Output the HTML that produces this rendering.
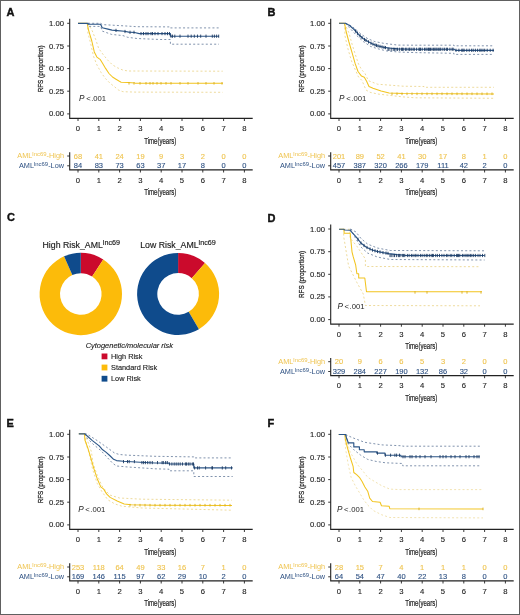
<!DOCTYPE html><html><head><meta charset="utf-8"><style>html,body{margin:0;padding:0;background:#fff}svg{display:block;filter:blur(0.3px)}</style></head><body>
<svg width="520" height="615" viewBox="0 0 520 615" font-family='"Liberation Sans", sans-serif'>
<rect x="0" y="0" width="520" height="615" fill="#fff"/>
<text x="6.6" y="15.8" font-size="11" font-weight="bold" fill="#111" stroke="#111" stroke-width="0.4">A</text>
<path d="M69.7 18.8V118.4H252.7" fill="none" stroke="#222" stroke-width="1.1"/>
<path d="M67.2 113.9H69.7" stroke="#222" stroke-width="0.9"/>
<text x="64.0" y="116.4" font-size="7.7" fill="#1e1e1e" stroke="#1e1e1e" stroke-width="0.12" text-anchor="end">0.00</text>
<path d="M67.2 91.2H69.7" stroke="#222" stroke-width="0.9"/>
<text x="64.0" y="93.8" font-size="7.7" fill="#1e1e1e" stroke="#1e1e1e" stroke-width="0.12" text-anchor="end">0.25</text>
<path d="M67.2 68.6H69.7" stroke="#222" stroke-width="0.9"/>
<text x="64.0" y="71.1" font-size="7.7" fill="#1e1e1e" stroke="#1e1e1e" stroke-width="0.12" text-anchor="end">0.50</text>
<path d="M67.2 46.0H69.7" stroke="#222" stroke-width="0.9"/>
<text x="64.0" y="48.5" font-size="7.7" fill="#1e1e1e" stroke="#1e1e1e" stroke-width="0.12" text-anchor="end">0.75</text>
<path d="M67.2 23.3H69.7" stroke="#222" stroke-width="0.9"/>
<text x="64.0" y="25.8" font-size="7.7" fill="#1e1e1e" stroke="#1e1e1e" stroke-width="0.12" text-anchor="end">1.00</text>
<path d="M78.0 118.4V121.0" stroke="#222" stroke-width="0.9"/>
<text x="78.0" y="131.0" font-size="7.7" fill="#1e1e1e" stroke="#1e1e1e" stroke-width="0.12" text-anchor="middle">0</text>
<path d="M98.8 118.4V121.0" stroke="#222" stroke-width="0.9"/>
<text x="98.8" y="131.0" font-size="7.7" fill="#1e1e1e" stroke="#1e1e1e" stroke-width="0.12" text-anchor="middle">1</text>
<path d="M119.6 118.4V121.0" stroke="#222" stroke-width="0.9"/>
<text x="119.6" y="131.0" font-size="7.7" fill="#1e1e1e" stroke="#1e1e1e" stroke-width="0.12" text-anchor="middle">2</text>
<path d="M140.4 118.4V121.0" stroke="#222" stroke-width="0.9"/>
<text x="140.4" y="131.0" font-size="7.7" fill="#1e1e1e" stroke="#1e1e1e" stroke-width="0.12" text-anchor="middle">3</text>
<path d="M161.2 118.4V121.0" stroke="#222" stroke-width="0.9"/>
<text x="161.2" y="131.0" font-size="7.7" fill="#1e1e1e" stroke="#1e1e1e" stroke-width="0.12" text-anchor="middle">4</text>
<path d="M182.0 118.4V121.0" stroke="#222" stroke-width="0.9"/>
<text x="182.0" y="131.0" font-size="7.7" fill="#1e1e1e" stroke="#1e1e1e" stroke-width="0.12" text-anchor="middle">5</text>
<path d="M202.8 118.4V121.0" stroke="#222" stroke-width="0.9"/>
<text x="202.8" y="131.0" font-size="7.7" fill="#1e1e1e" stroke="#1e1e1e" stroke-width="0.12" text-anchor="middle">6</text>
<path d="M223.6 118.4V121.0" stroke="#222" stroke-width="0.9"/>
<text x="223.6" y="131.0" font-size="7.7" fill="#1e1e1e" stroke="#1e1e1e" stroke-width="0.12" text-anchor="middle">7</text>
<path d="M244.4 118.4V121.0" stroke="#222" stroke-width="0.9"/>
<text x="244.4" y="131.0" font-size="7.7" fill="#1e1e1e" stroke="#1e1e1e" stroke-width="0.12" text-anchor="middle">8</text>
<text x="160.2" y="143.7" font-size="8.4" fill="#1e1e1e" text-anchor="middle" textLength="32" lengthAdjust="spacingAndGlyphs" stroke="#1e1e1e" stroke-width="0.2">Time(years)</text>
<text transform="translate(42.7,68.8) rotate(-90)" font-size="7.8" fill="#1e1e1e" text-anchor="middle" textLength="47" lengthAdjust="spacingAndGlyphs" stroke="#1e1e1e" stroke-width="0.25">RFS (proportion)</text>
<polyline points="88.0,23.3 100.8,23.3 102.3,24.6 123.0,25.8 137.0,26.7 170.4,26.9 170.4,27.9 219.0,27.9" fill="none" stroke="#6a7f9e" stroke-width="0.85" stroke-dasharray="2 2.2"/>
<polyline points="88.0,23.3 88.0,26.4 100.8,26.4 102.0,31.0 111.5,34.4 123.0,35.6 127.7,37.3 137.0,38.5 160.0,39.5 170.4,39.5 170.4,44.2 219.0,44.2" fill="none" stroke="#6a7f9e" stroke-width="0.85" stroke-dasharray="2 2.2"/>
<polyline points="87.4,23.3 91.8,29.8 95.7,39.5 98.7,48.5 103.8,55.4 108.2,60.6 112.5,64.9 117.7,67.9 122.9,70.1 128.0,71.0 222.7,71.2" fill="none" stroke="#e8cf7c" stroke-width="0.75" stroke-dasharray="2 2.2"/>
<polyline points="87.4,23.3 87.9,33.0 90.5,42.8 93.5,56.2 96.9,64.9 101.2,72.7 105.6,78.7 109.9,83.1 114.2,86.5 118.5,90.0 122.9,91.7 135.0,92.1 222.7,92.3" fill="none" stroke="#e8cf7c" stroke-width="0.75" stroke-dasharray="2 2.2"/>
<polyline points="78.0,23.3 87.2,23.3 88.5,29.8 89.8,34.3 91.8,41.0 94.3,51.9 96.9,57.1 100.4,59.7 103.0,64.0 105.6,68.4 109.0,73.5 112.5,77.0 116.0,79.2 119.4,81.3 121.1,82.2 128.0,82.6 135.0,83.1 223.0,83.3" fill="none" stroke="#f2c41e" stroke-width="1.05" stroke-linejoin="round"/>
<polyline points="78.0,23.3 88.0,23.3 88.0,24.2 100.6,24.2 102.2,27.8 108.0,29.1 112.0,30.1 117.3,30.6 124.2,31.3 128.8,32.1 134.6,32.5 139.2,33.6 170.4,33.6 170.4,36.2 219.0,36.2" fill="none" stroke="#2c5687" stroke-width="1.15" stroke-linejoin="round"/>
<path d="M116.0 28.8v3.2M125.0 29.9v3.2M130.0 30.7v3.2M134.0 30.7v3.2M141.0 32.0v3.2M143.5 32.0v3.2M146.0 32.0v3.2M148.0 32.0v3.2M151.0 32.0v3.2M152.5 32.0v3.2M155.0 32.0v3.2M158.0 32.0v3.2M162.0 32.0v3.2M165.0 32.0v3.2M167.5 32.0v3.2M169.5 32.0v3.2M171.0 34.6v3.2M172.5 34.6v3.2M174.8 34.6v3.2M180.0 34.6v3.2M188.0 34.6v3.2M191.2 34.6v3.2M194.3 34.6v3.2M197.5 34.6v3.2M200.7 34.6v3.2M206.0 34.6v3.2M212.3 34.6v3.2M214.4 34.6v3.2M216.6 34.6v3.2M218.7 34.6v3.2" stroke="#1d3b63" stroke-width="0.9"/>
<path d="M129.0 82.0v2.6M134.0 82.0v2.6M140.0 82.0v2.6M146.0 82.0v2.6M150.0 82.0v2.6M153.0 82.0v2.6M157.0 82.0v2.6M161.0 82.0v2.6M166.0 82.0v2.6M171.0 82.0v2.6M180.0 82.0v2.6M188.0 82.0v2.6M198.0 82.0v2.6M206.0 82.0v2.6M214.0 82.0v2.6M222.0 82.0v2.6" stroke="#d9ae1e" stroke-width="0.9"/>
<text x="79.0" y="100.8" font-size="7.7" fill="#1e1e1e"><tspan font-style="italic" font-size="8.2">P</tspan><tspan dx="1.7">&lt;</tspan><tspan dx="0.5">.001</tspan></text>
<path d="M69.7 152.2V169.9H252.7" fill="none" stroke="#222" stroke-width="1.1"/>
<path d="M67.2 156.0H69.7" stroke="#222" stroke-width="0.9"/>
<path d="M67.2 165.8H69.7" stroke="#222" stroke-width="0.9"/>
<path d="M78.0 169.9V172.5" stroke="#222" stroke-width="0.9"/>
<text x="78.0" y="182.7" font-size="7.7" fill="#1e1e1e" stroke="#1e1e1e" stroke-width="0.12" text-anchor="middle">0</text>
<path d="M98.8 169.9V172.5" stroke="#222" stroke-width="0.9"/>
<text x="98.8" y="182.7" font-size="7.7" fill="#1e1e1e" stroke="#1e1e1e" stroke-width="0.12" text-anchor="middle">1</text>
<path d="M119.6 169.9V172.5" stroke="#222" stroke-width="0.9"/>
<text x="119.6" y="182.7" font-size="7.7" fill="#1e1e1e" stroke="#1e1e1e" stroke-width="0.12" text-anchor="middle">2</text>
<path d="M140.4 169.9V172.5" stroke="#222" stroke-width="0.9"/>
<text x="140.4" y="182.7" font-size="7.7" fill="#1e1e1e" stroke="#1e1e1e" stroke-width="0.12" text-anchor="middle">3</text>
<path d="M161.2 169.9V172.5" stroke="#222" stroke-width="0.9"/>
<text x="161.2" y="182.7" font-size="7.7" fill="#1e1e1e" stroke="#1e1e1e" stroke-width="0.12" text-anchor="middle">4</text>
<path d="M182.0 169.9V172.5" stroke="#222" stroke-width="0.9"/>
<text x="182.0" y="182.7" font-size="7.7" fill="#1e1e1e" stroke="#1e1e1e" stroke-width="0.12" text-anchor="middle">5</text>
<path d="M202.8 169.9V172.5" stroke="#222" stroke-width="0.9"/>
<text x="202.8" y="182.7" font-size="7.7" fill="#1e1e1e" stroke="#1e1e1e" stroke-width="0.12" text-anchor="middle">6</text>
<path d="M223.6 169.9V172.5" stroke="#222" stroke-width="0.9"/>
<text x="223.6" y="182.7" font-size="7.7" fill="#1e1e1e" stroke="#1e1e1e" stroke-width="0.12" text-anchor="middle">7</text>
<path d="M244.4 169.9V172.5" stroke="#222" stroke-width="0.9"/>
<text x="244.4" y="182.7" font-size="7.7" fill="#1e1e1e" stroke="#1e1e1e" stroke-width="0.12" text-anchor="middle">8</text>
<text x="160.2" y="195.1" font-size="8.4" fill="#1e1e1e" text-anchor="middle" textLength="32" lengthAdjust="spacingAndGlyphs" stroke="#1e1e1e" stroke-width="0.2">Time(years)</text>
<text x="64.0" y="158.3" font-size="7.3" fill="#efc450" text-anchor="end">AML<tspan font-size="5.2" dy="-2" textLength="14.2" lengthAdjust="spacingAndGlyphs">lnc69</tspan><tspan dy="2">-High</tspan></text>
<text x="64.0" y="168.1" font-size="7.3" fill="#2f5283" text-anchor="end">AML<tspan font-size="5.2" dy="-2" textLength="14.2" lengthAdjust="spacingAndGlyphs">lnc69</tspan><tspan dy="2">-Low</tspan></text>
<text x="78.0" y="158.6" font-size="7.5" fill="#efc450" stroke="#efc450" stroke-width="0.12" text-anchor="middle">68</text>
<text x="78.0" y="168.4" font-size="7.5" fill="#2f5283" stroke="#2f5283" stroke-width="0.12" text-anchor="middle">84</text>
<text x="98.8" y="158.6" font-size="7.5" fill="#efc450" stroke="#efc450" stroke-width="0.12" text-anchor="middle">41</text>
<text x="98.8" y="168.4" font-size="7.5" fill="#2f5283" stroke="#2f5283" stroke-width="0.12" text-anchor="middle">83</text>
<text x="119.6" y="158.6" font-size="7.5" fill="#efc450" stroke="#efc450" stroke-width="0.12" text-anchor="middle">24</text>
<text x="119.6" y="168.4" font-size="7.5" fill="#2f5283" stroke="#2f5283" stroke-width="0.12" text-anchor="middle">73</text>
<text x="140.4" y="158.6" font-size="7.5" fill="#efc450" stroke="#efc450" stroke-width="0.12" text-anchor="middle">19</text>
<text x="140.4" y="168.4" font-size="7.5" fill="#2f5283" stroke="#2f5283" stroke-width="0.12" text-anchor="middle">63</text>
<text x="161.2" y="158.6" font-size="7.5" fill="#efc450" stroke="#efc450" stroke-width="0.12" text-anchor="middle">9</text>
<text x="161.2" y="168.4" font-size="7.5" fill="#2f5283" stroke="#2f5283" stroke-width="0.12" text-anchor="middle">37</text>
<text x="182.0" y="158.6" font-size="7.5" fill="#efc450" stroke="#efc450" stroke-width="0.12" text-anchor="middle">3</text>
<text x="182.0" y="168.4" font-size="7.5" fill="#2f5283" stroke="#2f5283" stroke-width="0.12" text-anchor="middle">17</text>
<text x="202.8" y="158.6" font-size="7.5" fill="#efc450" stroke="#efc450" stroke-width="0.12" text-anchor="middle">2</text>
<text x="202.8" y="168.4" font-size="7.5" fill="#2f5283" stroke="#2f5283" stroke-width="0.12" text-anchor="middle">8</text>
<text x="223.6" y="158.6" font-size="7.5" fill="#efc450" stroke="#efc450" stroke-width="0.12" text-anchor="middle">0</text>
<text x="223.6" y="168.4" font-size="7.5" fill="#2f5283" stroke="#2f5283" stroke-width="0.12" text-anchor="middle">0</text>
<text x="244.4" y="158.6" font-size="7.5" fill="#efc450" stroke="#efc450" stroke-width="0.12" text-anchor="middle">0</text>
<text x="244.4" y="168.4" font-size="7.5" fill="#2f5283" stroke="#2f5283" stroke-width="0.12" text-anchor="middle">0</text>
<text x="267.6" y="15.8" font-size="11" font-weight="bold" fill="#111" stroke="#111" stroke-width="0.4">B</text>
<path d="M330.7 18.8V118.4H513.7" fill="none" stroke="#222" stroke-width="1.1"/>
<path d="M328.2 113.9H330.7" stroke="#222" stroke-width="0.9"/>
<text x="325.0" y="116.4" font-size="7.7" fill="#1e1e1e" stroke="#1e1e1e" stroke-width="0.12" text-anchor="end">0.00</text>
<path d="M328.2 91.2H330.7" stroke="#222" stroke-width="0.9"/>
<text x="325.0" y="93.8" font-size="7.7" fill="#1e1e1e" stroke="#1e1e1e" stroke-width="0.12" text-anchor="end">0.25</text>
<path d="M328.2 68.6H330.7" stroke="#222" stroke-width="0.9"/>
<text x="325.0" y="71.1" font-size="7.7" fill="#1e1e1e" stroke="#1e1e1e" stroke-width="0.12" text-anchor="end">0.50</text>
<path d="M328.2 46.0H330.7" stroke="#222" stroke-width="0.9"/>
<text x="325.0" y="48.5" font-size="7.7" fill="#1e1e1e" stroke="#1e1e1e" stroke-width="0.12" text-anchor="end">0.75</text>
<path d="M328.2 23.3H330.7" stroke="#222" stroke-width="0.9"/>
<text x="325.0" y="25.8" font-size="7.7" fill="#1e1e1e" stroke="#1e1e1e" stroke-width="0.12" text-anchor="end">1.00</text>
<path d="M339.0 118.4V121.0" stroke="#222" stroke-width="0.9"/>
<text x="339.0" y="131.0" font-size="7.7" fill="#1e1e1e" stroke="#1e1e1e" stroke-width="0.12" text-anchor="middle">0</text>
<path d="M359.8 118.4V121.0" stroke="#222" stroke-width="0.9"/>
<text x="359.8" y="131.0" font-size="7.7" fill="#1e1e1e" stroke="#1e1e1e" stroke-width="0.12" text-anchor="middle">1</text>
<path d="M380.6 118.4V121.0" stroke="#222" stroke-width="0.9"/>
<text x="380.6" y="131.0" font-size="7.7" fill="#1e1e1e" stroke="#1e1e1e" stroke-width="0.12" text-anchor="middle">2</text>
<path d="M401.4 118.4V121.0" stroke="#222" stroke-width="0.9"/>
<text x="401.4" y="131.0" font-size="7.7" fill="#1e1e1e" stroke="#1e1e1e" stroke-width="0.12" text-anchor="middle">3</text>
<path d="M422.2 118.4V121.0" stroke="#222" stroke-width="0.9"/>
<text x="422.2" y="131.0" font-size="7.7" fill="#1e1e1e" stroke="#1e1e1e" stroke-width="0.12" text-anchor="middle">4</text>
<path d="M443.0 118.4V121.0" stroke="#222" stroke-width="0.9"/>
<text x="443.0" y="131.0" font-size="7.7" fill="#1e1e1e" stroke="#1e1e1e" stroke-width="0.12" text-anchor="middle">5</text>
<path d="M463.8 118.4V121.0" stroke="#222" stroke-width="0.9"/>
<text x="463.8" y="131.0" font-size="7.7" fill="#1e1e1e" stroke="#1e1e1e" stroke-width="0.12" text-anchor="middle">6</text>
<path d="M484.6 118.4V121.0" stroke="#222" stroke-width="0.9"/>
<text x="484.6" y="131.0" font-size="7.7" fill="#1e1e1e" stroke="#1e1e1e" stroke-width="0.12" text-anchor="middle">7</text>
<path d="M505.4 118.4V121.0" stroke="#222" stroke-width="0.9"/>
<text x="505.4" y="131.0" font-size="7.7" fill="#1e1e1e" stroke="#1e1e1e" stroke-width="0.12" text-anchor="middle">8</text>
<text x="421.2" y="143.7" font-size="8.4" fill="#1e1e1e" text-anchor="middle" textLength="32" lengthAdjust="spacingAndGlyphs" stroke="#1e1e1e" stroke-width="0.2">Time(years)</text>
<text transform="translate(303.7,68.8) rotate(-90)" font-size="7.8" fill="#1e1e1e" text-anchor="middle" textLength="47" lengthAdjust="spacingAndGlyphs" stroke="#1e1e1e" stroke-width="0.25">RFS (proportion)</text>
<polyline points="345.5,23.2 351.8,26.1 361.0,34.1 368.0,38.8 374.9,41.6 384.1,43.4 398.0,45.1 415.0,45.2 454.0,45.2 454.0,45.8 494.0,45.8" fill="none" stroke="#6a7f9e" stroke-width="0.85" stroke-dasharray="2 2.2"/>
<polyline points="345.5,23.2 349.5,27.8 356.5,35.3 363.4,41.6 370.3,46.3 377.2,48.6 386.4,50.9 398.0,52.0 415.0,52.6 454.0,53.3 454.0,54.4 494.0,54.4" fill="none" stroke="#6a7f9e" stroke-width="0.85" stroke-dasharray="2 2.2"/>
<polyline points="344.5,23.3 349.0,33.0 352.0,44.0 355.5,55.0 358.5,64.0 361.5,69.5 365.0,73.5 368.4,80.7 377.6,84.2 403.0,86.2 424.0,86.5 424.0,87.3 494.0,87.3" fill="none" stroke="#e8cf7c" stroke-width="0.75" stroke-dasharray="2 2.2"/>
<polyline points="344.5,23.3 345.0,36.0 348.0,49.0 351.5,61.0 354.5,68.0 358.5,77.0 362.0,80.5 366.0,90.0 370.0,92.3 377.6,94.0 403.0,96.9 415.0,97.8 494.0,98.3" fill="none" stroke="#e8cf7c" stroke-width="0.75" stroke-dasharray="2 2.2"/>
<polyline points="339.0,23.3 344.5,23.3 346.0,31.0 348.8,41.5 352.2,53.1 355.1,63.4 358.0,71.5 361.5,76.1 364.3,77.3 366.6,81.3 369.0,86.5 373.0,88.2 381.1,91.1 389.1,92.9 403.0,93.4 494.0,94.0" fill="none" stroke="#f2c41e" stroke-width="1.05" stroke-linejoin="round"/>
<polyline points="339.0,23.2 345.5,23.2 349.5,25.5 354.1,29.5 358.8,34.7 363.4,38.8 368.0,41.6 372.6,44.0 377.2,45.7 384.1,47.4 391.0,48.2 398.0,48.9 410.0,49.2 454.6,49.3 455.5,50.3 494.0,50.3" fill="none" stroke="#2c5687" stroke-width="1.15" stroke-linejoin="round"/>
<path d="M355.5 29.4v3.2M357.5 31.7v3.2M360.0 34.2v3.2M362.0 36.0v3.2M364.5 37.9v3.2M366.0 38.8v3.2M368.5 40.3v3.2M371.0 41.6v3.2M373.0 42.5v3.2M375.0 43.3v3.2M376.5 43.8v3.2M378.0 44.3v3.2M380.0 44.8v3.2M382.0 45.3v3.2M384.0 45.8v3.2M385.5 46.0v3.2M388.0 47.7v3.2M389.0 47.7v3.2M391.2 47.7v3.2M393.2 47.7v3.2M394.4 47.7v3.2M396.0 47.7v3.2M397.5 47.7v3.2M399.4 47.7v3.2M401.4 47.7v3.2M402.4 47.7v3.2M403.2 47.7v3.2M405.4 47.7v3.2M406.8 47.7v3.2M408.9 47.7v3.2M409.7 47.7v3.2M411.2 47.7v3.2M413.1 47.7v3.2M414.3 47.7v3.2M416.6 47.7v3.2M418.9 47.7v3.2M419.7 47.7v3.2M420.5 47.7v3.2M422.2 47.7v3.2M424.5 47.7v3.2M425.9 47.7v3.2M427.1 47.7v3.2M428.5 47.7v3.2M429.4 47.7v3.2M430.5 47.7v3.2M432.0 47.7v3.2M433.6 47.7v3.2M434.8 47.7v3.2M436.0 47.7v3.2M437.1 47.7v3.2M438.7 47.7v3.2M439.9 47.7v3.2M440.8 47.7v3.2M442.9 47.7v3.2M444.6 47.7v3.2M446.4 47.7v3.2M447.5 47.7v3.2M449.9 47.7v3.2M452.1 47.7v3.2M453.1 47.7v3.2M456.0 48.7v3.2M458.9 48.7v3.2M461.8 48.7v3.2M462.9 48.7v3.2M464.1 48.7v3.2M466.8 48.7v3.2M469.2 48.7v3.2M471.6 48.7v3.2M473.2 48.7v3.2M475.4 48.7v3.2M477.6 48.7v3.2M479.8 48.7v3.2M481.1 48.7v3.2M483.0 48.7v3.2M484.7 48.7v3.2M487.2 48.7v3.2M490.2 48.7v3.2M493.1 48.7v3.2" stroke="#1d3b63" stroke-width="0.9"/>
<path d="M392.0 92.5v2.6M397.0 92.5v2.6M402.0 92.5v2.6M407.0 92.5v2.6M412.0 92.5v2.6M417.0 92.5v2.6M422.0 92.5v2.6M427.0 92.5v2.6M432.0 92.5v2.6M437.0 92.5v2.6M442.0 92.5v2.6M447.0 92.5v2.6M452.0 92.5v2.6M457.0 92.5v2.6M462.0 92.5v2.6M467.0 92.5v2.6M472.0 92.5v2.6M477.0 92.5v2.6M482.0 92.5v2.6M487.0 92.5v2.6M492.0 92.5v2.6" stroke="#d9ae1e" stroke-width="0.9"/>
<text x="339.1" y="100.8" font-size="7.7" fill="#1e1e1e"><tspan font-style="italic" font-size="8.2">P</tspan><tspan dx="1.7">&lt;</tspan><tspan dx="0.5">.001</tspan></text>
<path d="M330.7 152.2V169.9H513.7" fill="none" stroke="#222" stroke-width="1.1"/>
<path d="M328.2 156.0H330.7" stroke="#222" stroke-width="0.9"/>
<path d="M328.2 165.8H330.7" stroke="#222" stroke-width="0.9"/>
<path d="M339.0 169.9V172.5" stroke="#222" stroke-width="0.9"/>
<text x="339.0" y="182.7" font-size="7.7" fill="#1e1e1e" stroke="#1e1e1e" stroke-width="0.12" text-anchor="middle">0</text>
<path d="M359.8 169.9V172.5" stroke="#222" stroke-width="0.9"/>
<text x="359.8" y="182.7" font-size="7.7" fill="#1e1e1e" stroke="#1e1e1e" stroke-width="0.12" text-anchor="middle">1</text>
<path d="M380.6 169.9V172.5" stroke="#222" stroke-width="0.9"/>
<text x="380.6" y="182.7" font-size="7.7" fill="#1e1e1e" stroke="#1e1e1e" stroke-width="0.12" text-anchor="middle">2</text>
<path d="M401.4 169.9V172.5" stroke="#222" stroke-width="0.9"/>
<text x="401.4" y="182.7" font-size="7.7" fill="#1e1e1e" stroke="#1e1e1e" stroke-width="0.12" text-anchor="middle">3</text>
<path d="M422.2 169.9V172.5" stroke="#222" stroke-width="0.9"/>
<text x="422.2" y="182.7" font-size="7.7" fill="#1e1e1e" stroke="#1e1e1e" stroke-width="0.12" text-anchor="middle">4</text>
<path d="M443.0 169.9V172.5" stroke="#222" stroke-width="0.9"/>
<text x="443.0" y="182.7" font-size="7.7" fill="#1e1e1e" stroke="#1e1e1e" stroke-width="0.12" text-anchor="middle">5</text>
<path d="M463.8 169.9V172.5" stroke="#222" stroke-width="0.9"/>
<text x="463.8" y="182.7" font-size="7.7" fill="#1e1e1e" stroke="#1e1e1e" stroke-width="0.12" text-anchor="middle">6</text>
<path d="M484.6 169.9V172.5" stroke="#222" stroke-width="0.9"/>
<text x="484.6" y="182.7" font-size="7.7" fill="#1e1e1e" stroke="#1e1e1e" stroke-width="0.12" text-anchor="middle">7</text>
<path d="M505.4 169.9V172.5" stroke="#222" stroke-width="0.9"/>
<text x="505.4" y="182.7" font-size="7.7" fill="#1e1e1e" stroke="#1e1e1e" stroke-width="0.12" text-anchor="middle">8</text>
<text x="421.2" y="195.1" font-size="8.4" fill="#1e1e1e" text-anchor="middle" textLength="32" lengthAdjust="spacingAndGlyphs" stroke="#1e1e1e" stroke-width="0.2">Time(years)</text>
<text x="325.0" y="158.3" font-size="7.3" fill="#efc450" text-anchor="end">AML<tspan font-size="5.2" dy="-2" textLength="14.2" lengthAdjust="spacingAndGlyphs">lnc69</tspan><tspan dy="2">-High</tspan></text>
<text x="325.0" y="168.1" font-size="7.3" fill="#2f5283" text-anchor="end">AML<tspan font-size="5.2" dy="-2" textLength="14.2" lengthAdjust="spacingAndGlyphs">lnc69</tspan><tspan dy="2">-Low</tspan></text>
<text x="339.0" y="158.6" font-size="7.5" fill="#efc450" stroke="#efc450" stroke-width="0.12" text-anchor="middle">201</text>
<text x="339.0" y="168.4" font-size="7.5" fill="#2f5283" stroke="#2f5283" stroke-width="0.12" text-anchor="middle">457</text>
<text x="359.8" y="158.6" font-size="7.5" fill="#efc450" stroke="#efc450" stroke-width="0.12" text-anchor="middle">89</text>
<text x="359.8" y="168.4" font-size="7.5" fill="#2f5283" stroke="#2f5283" stroke-width="0.12" text-anchor="middle">387</text>
<text x="380.6" y="158.6" font-size="7.5" fill="#efc450" stroke="#efc450" stroke-width="0.12" text-anchor="middle">52</text>
<text x="380.6" y="168.4" font-size="7.5" fill="#2f5283" stroke="#2f5283" stroke-width="0.12" text-anchor="middle">320</text>
<text x="401.4" y="158.6" font-size="7.5" fill="#efc450" stroke="#efc450" stroke-width="0.12" text-anchor="middle">41</text>
<text x="401.4" y="168.4" font-size="7.5" fill="#2f5283" stroke="#2f5283" stroke-width="0.12" text-anchor="middle">266</text>
<text x="422.2" y="158.6" font-size="7.5" fill="#efc450" stroke="#efc450" stroke-width="0.12" text-anchor="middle">30</text>
<text x="422.2" y="168.4" font-size="7.5" fill="#2f5283" stroke="#2f5283" stroke-width="0.12" text-anchor="middle">179</text>
<text x="443.0" y="158.6" font-size="7.5" fill="#efc450" stroke="#efc450" stroke-width="0.12" text-anchor="middle">17</text>
<text x="443.0" y="168.4" font-size="7.5" fill="#2f5283" stroke="#2f5283" stroke-width="0.12" text-anchor="middle">111</text>
<text x="463.8" y="158.6" font-size="7.5" fill="#efc450" stroke="#efc450" stroke-width="0.12" text-anchor="middle">8</text>
<text x="463.8" y="168.4" font-size="7.5" fill="#2f5283" stroke="#2f5283" stroke-width="0.12" text-anchor="middle">42</text>
<text x="484.6" y="158.6" font-size="7.5" fill="#efc450" stroke="#efc450" stroke-width="0.12" text-anchor="middle">1</text>
<text x="484.6" y="168.4" font-size="7.5" fill="#2f5283" stroke="#2f5283" stroke-width="0.12" text-anchor="middle">2</text>
<text x="505.4" y="158.6" font-size="7.5" fill="#efc450" stroke="#efc450" stroke-width="0.12" text-anchor="middle">0</text>
<text x="505.4" y="168.4" font-size="7.5" fill="#2f5283" stroke="#2f5283" stroke-width="0.12" text-anchor="middle">0</text>
<text x="267.6" y="221.5" font-size="11" font-weight="bold" fill="#111" stroke="#111" stroke-width="0.4">D</text>
<path d="M330.7 224.5V324.1H513.7" fill="none" stroke="#222" stroke-width="1.1"/>
<path d="M328.2 319.6H330.7" stroke="#222" stroke-width="0.9"/>
<text x="325.0" y="322.1" font-size="7.7" fill="#1e1e1e" stroke="#1e1e1e" stroke-width="0.12" text-anchor="end">0.00</text>
<path d="M328.2 296.9H330.7" stroke="#222" stroke-width="0.9"/>
<text x="325.0" y="299.4" font-size="7.7" fill="#1e1e1e" stroke="#1e1e1e" stroke-width="0.12" text-anchor="end">0.25</text>
<path d="M328.2 274.3H330.7" stroke="#222" stroke-width="0.9"/>
<text x="325.0" y="276.8" font-size="7.7" fill="#1e1e1e" stroke="#1e1e1e" stroke-width="0.12" text-anchor="end">0.50</text>
<path d="M328.2 251.7H330.7" stroke="#222" stroke-width="0.9"/>
<text x="325.0" y="254.2" font-size="7.7" fill="#1e1e1e" stroke="#1e1e1e" stroke-width="0.12" text-anchor="end">0.75</text>
<path d="M328.2 229.0H330.7" stroke="#222" stroke-width="0.9"/>
<text x="325.0" y="231.5" font-size="7.7" fill="#1e1e1e" stroke="#1e1e1e" stroke-width="0.12" text-anchor="end">1.00</text>
<path d="M339.0 324.1V326.7" stroke="#222" stroke-width="0.9"/>
<text x="339.0" y="336.7" font-size="7.7" fill="#1e1e1e" stroke="#1e1e1e" stroke-width="0.12" text-anchor="middle">0</text>
<path d="M359.8 324.1V326.7" stroke="#222" stroke-width="0.9"/>
<text x="359.8" y="336.7" font-size="7.7" fill="#1e1e1e" stroke="#1e1e1e" stroke-width="0.12" text-anchor="middle">1</text>
<path d="M380.6 324.1V326.7" stroke="#222" stroke-width="0.9"/>
<text x="380.6" y="336.7" font-size="7.7" fill="#1e1e1e" stroke="#1e1e1e" stroke-width="0.12" text-anchor="middle">2</text>
<path d="M401.4 324.1V326.7" stroke="#222" stroke-width="0.9"/>
<text x="401.4" y="336.7" font-size="7.7" fill="#1e1e1e" stroke="#1e1e1e" stroke-width="0.12" text-anchor="middle">3</text>
<path d="M422.2 324.1V326.7" stroke="#222" stroke-width="0.9"/>
<text x="422.2" y="336.7" font-size="7.7" fill="#1e1e1e" stroke="#1e1e1e" stroke-width="0.12" text-anchor="middle">4</text>
<path d="M443.0 324.1V326.7" stroke="#222" stroke-width="0.9"/>
<text x="443.0" y="336.7" font-size="7.7" fill="#1e1e1e" stroke="#1e1e1e" stroke-width="0.12" text-anchor="middle">5</text>
<path d="M463.8 324.1V326.7" stroke="#222" stroke-width="0.9"/>
<text x="463.8" y="336.7" font-size="7.7" fill="#1e1e1e" stroke="#1e1e1e" stroke-width="0.12" text-anchor="middle">6</text>
<path d="M484.6 324.1V326.7" stroke="#222" stroke-width="0.9"/>
<text x="484.6" y="336.7" font-size="7.7" fill="#1e1e1e" stroke="#1e1e1e" stroke-width="0.12" text-anchor="middle">7</text>
<path d="M505.4 324.1V326.7" stroke="#222" stroke-width="0.9"/>
<text x="505.4" y="336.7" font-size="7.7" fill="#1e1e1e" stroke="#1e1e1e" stroke-width="0.12" text-anchor="middle">8</text>
<text x="421.2" y="349.4" font-size="8.4" fill="#1e1e1e" text-anchor="middle" textLength="32" lengthAdjust="spacingAndGlyphs" stroke="#1e1e1e" stroke-width="0.2">Time(years)</text>
<text transform="translate(303.7,274.5) rotate(-90)" font-size="7.8" fill="#1e1e1e" text-anchor="middle" textLength="47" lengthAdjust="spacingAndGlyphs" stroke="#1e1e1e" stroke-width="0.25">RFS (proportion)</text>
<polyline points="350.4,229.0 356.0,232.0 361.0,238.5 367.5,244.0 377.3,248.0 390.3,250.5 484.6,250.8" fill="none" stroke="#6a7f9e" stroke-width="0.85" stroke-dasharray="2 2.2"/>
<polyline points="350.4,229.0 356.0,239.0 361.0,247.0 367.5,253.0 377.3,257.0 390.3,259.5 484.6,260.0" fill="none" stroke="#6a7f9e" stroke-width="0.85" stroke-dasharray="2 2.2"/>
<polyline points="343.7,229.3 350.0,229.3 350.0,238.0 357.0,246.4 365.4,259.0 365.4,266.5 480.0,266.7" fill="none" stroke="#e8cf7c" stroke-width="0.75" stroke-dasharray="2 2.2"/>
<polyline points="343.7,229.3 343.7,236.6 348.6,266.0 357.0,282.7 363.3,294.0 365.4,305.5 480.0,305.8" fill="none" stroke="#e8cf7c" stroke-width="0.75" stroke-dasharray="2 2.2"/>
<polyline points="339.3,229.3 344.1,229.3 344.1,233.3 350.2,233.3 352.0,251.8 353.2,256.7 355.7,265.2 356.9,273.8 358.7,273.8 358.7,278.0 364.8,278.0 366.5,291.8 482.0,291.8" fill="none" stroke="#f2c41e" stroke-width="1.05" stroke-linejoin="round"/>
<polyline points="339.0,229.2 344.0,229.2 344.5,230.0 350.2,230.3 356.3,237.2 361.2,243.3 366.0,247.0 372.1,250.0 377.0,251.4 383.0,252.6 389.0,253.6 397.0,254.6 405.0,255.3 484.6,255.5" fill="none" stroke="#2c5687" stroke-width="1.15" stroke-linejoin="round"/>
<path d="M358.0 237.7v3.2M361.0 241.5v3.2M364.0 243.9v3.2M367.0 245.9v3.2M370.0 247.4v3.2M372.5 248.5v3.2M375.0 249.2v3.2M377.5 249.9v3.2M380.0 250.4v3.2M383.0 251.0v3.2M386.0 251.5v3.2M388.0 251.8v3.2M390.0 253.9v3.2M391.2 253.9v3.2M393.0 253.9v3.2M394.5 253.9v3.2M396.4 253.9v3.2M398.3 253.9v3.2M399.2 253.9v3.2M400.0 253.9v3.2M402.3 253.9v3.2M403.6 253.9v3.2M404.8 253.9v3.2M407.4 253.9v3.2M409.1 253.9v3.2M411.4 253.9v3.2M413.0 253.9v3.2M415.0 253.9v3.2M416.0 253.9v3.2M418.0 253.9v3.2M420.4 253.9v3.2M422.1 253.9v3.2M424.2 253.9v3.2M426.2 253.9v3.2M427.2 253.9v3.2M429.3 253.9v3.2M431.2 253.9v3.2M432.5 253.9v3.2M433.4 253.9v3.2M435.7 253.9v3.2M437.4 253.9v3.2M439.5 253.9v3.2M441.9 253.9v3.2M444.0 253.9v3.2M446.4 253.9v3.2M447.9 253.9v3.2M450.2 253.9v3.2M451.8 253.9v3.2M454.2 253.9v3.2M456.6 253.9v3.2M457.6 253.9v3.2M458.6 253.9v3.2M459.8 253.9v3.2M462.4 253.9v3.2M464.0 253.9v3.2M465.9 253.9v3.2M467.2 253.9v3.2M468.9 253.9v3.2M470.4 253.9v3.2M471.9 253.9v3.2M473.7 253.9v3.2M475.6 253.9v3.2M478.0 253.9v3.2M480.0 253.9v3.2M482.5 253.9v3.2M484.8 253.9v3.2" stroke="#1d3b63" stroke-width="0.9"/>
<path d="M415.0 291.1v2.6M427.0 291.1v2.6M462.0 291.1v2.6M467.0 291.1v2.6M481.0 291.1v2.6" stroke="#d9ae1e" stroke-width="0.9"/>
<text x="337.4" y="308.6" font-size="7.7" fill="#1e1e1e"><tspan font-style="italic" font-size="8.2">P</tspan><tspan dx="1.7">&lt;</tspan><tspan dx="0.5">.001</tspan></text>
<path d="M330.7 357.9V375.6H513.7" fill="none" stroke="#222" stroke-width="1.1"/>
<path d="M328.2 361.7H330.7" stroke="#222" stroke-width="0.9"/>
<path d="M328.2 371.5H330.7" stroke="#222" stroke-width="0.9"/>
<path d="M339.0 375.6V378.2" stroke="#222" stroke-width="0.9"/>
<text x="339.0" y="388.4" font-size="7.7" fill="#1e1e1e" stroke="#1e1e1e" stroke-width="0.12" text-anchor="middle">0</text>
<path d="M359.8 375.6V378.2" stroke="#222" stroke-width="0.9"/>
<text x="359.8" y="388.4" font-size="7.7" fill="#1e1e1e" stroke="#1e1e1e" stroke-width="0.12" text-anchor="middle">1</text>
<path d="M380.6 375.6V378.2" stroke="#222" stroke-width="0.9"/>
<text x="380.6" y="388.4" font-size="7.7" fill="#1e1e1e" stroke="#1e1e1e" stroke-width="0.12" text-anchor="middle">2</text>
<path d="M401.4 375.6V378.2" stroke="#222" stroke-width="0.9"/>
<text x="401.4" y="388.4" font-size="7.7" fill="#1e1e1e" stroke="#1e1e1e" stroke-width="0.12" text-anchor="middle">3</text>
<path d="M422.2 375.6V378.2" stroke="#222" stroke-width="0.9"/>
<text x="422.2" y="388.4" font-size="7.7" fill="#1e1e1e" stroke="#1e1e1e" stroke-width="0.12" text-anchor="middle">4</text>
<path d="M443.0 375.6V378.2" stroke="#222" stroke-width="0.9"/>
<text x="443.0" y="388.4" font-size="7.7" fill="#1e1e1e" stroke="#1e1e1e" stroke-width="0.12" text-anchor="middle">5</text>
<path d="M463.8 375.6V378.2" stroke="#222" stroke-width="0.9"/>
<text x="463.8" y="388.4" font-size="7.7" fill="#1e1e1e" stroke="#1e1e1e" stroke-width="0.12" text-anchor="middle">6</text>
<path d="M484.6 375.6V378.2" stroke="#222" stroke-width="0.9"/>
<text x="484.6" y="388.4" font-size="7.7" fill="#1e1e1e" stroke="#1e1e1e" stroke-width="0.12" text-anchor="middle">7</text>
<path d="M505.4 375.6V378.2" stroke="#222" stroke-width="0.9"/>
<text x="505.4" y="388.4" font-size="7.7" fill="#1e1e1e" stroke="#1e1e1e" stroke-width="0.12" text-anchor="middle">8</text>
<text x="421.2" y="400.8" font-size="8.4" fill="#1e1e1e" text-anchor="middle" textLength="32" lengthAdjust="spacingAndGlyphs" stroke="#1e1e1e" stroke-width="0.2">Time(years)</text>
<text x="325.0" y="364.0" font-size="7.3" fill="#efc450" text-anchor="end">AML<tspan font-size="5.2" dy="-2" textLength="14.2" lengthAdjust="spacingAndGlyphs">lnc69</tspan><tspan dy="2">-High</tspan></text>
<text x="325.0" y="373.8" font-size="7.3" fill="#2f5283" text-anchor="end">AML<tspan font-size="5.2" dy="-2" textLength="14.2" lengthAdjust="spacingAndGlyphs">lnc69</tspan><tspan dy="2">-Low</tspan></text>
<text x="339.0" y="364.3" font-size="7.5" fill="#efc450" stroke="#efc450" stroke-width="0.12" text-anchor="middle">20</text>
<text x="339.0" y="374.1" font-size="7.5" fill="#2f5283" stroke="#2f5283" stroke-width="0.12" text-anchor="middle">329</text>
<text x="359.8" y="364.3" font-size="7.5" fill="#efc450" stroke="#efc450" stroke-width="0.12" text-anchor="middle">9</text>
<text x="359.8" y="374.1" font-size="7.5" fill="#2f5283" stroke="#2f5283" stroke-width="0.12" text-anchor="middle">284</text>
<text x="380.6" y="364.3" font-size="7.5" fill="#efc450" stroke="#efc450" stroke-width="0.12" text-anchor="middle">6</text>
<text x="380.6" y="374.1" font-size="7.5" fill="#2f5283" stroke="#2f5283" stroke-width="0.12" text-anchor="middle">227</text>
<text x="401.4" y="364.3" font-size="7.5" fill="#efc450" stroke="#efc450" stroke-width="0.12" text-anchor="middle">6</text>
<text x="401.4" y="374.1" font-size="7.5" fill="#2f5283" stroke="#2f5283" stroke-width="0.12" text-anchor="middle">190</text>
<text x="422.2" y="364.3" font-size="7.5" fill="#efc450" stroke="#efc450" stroke-width="0.12" text-anchor="middle">5</text>
<text x="422.2" y="374.1" font-size="7.5" fill="#2f5283" stroke="#2f5283" stroke-width="0.12" text-anchor="middle">132</text>
<text x="443.0" y="364.3" font-size="7.5" fill="#efc450" stroke="#efc450" stroke-width="0.12" text-anchor="middle">3</text>
<text x="443.0" y="374.1" font-size="7.5" fill="#2f5283" stroke="#2f5283" stroke-width="0.12" text-anchor="middle">86</text>
<text x="463.8" y="364.3" font-size="7.5" fill="#efc450" stroke="#efc450" stroke-width="0.12" text-anchor="middle">2</text>
<text x="463.8" y="374.1" font-size="7.5" fill="#2f5283" stroke="#2f5283" stroke-width="0.12" text-anchor="middle">32</text>
<text x="484.6" y="364.3" font-size="7.5" fill="#efc450" stroke="#efc450" stroke-width="0.12" text-anchor="middle">0</text>
<text x="484.6" y="374.1" font-size="7.5" fill="#2f5283" stroke="#2f5283" stroke-width="0.12" text-anchor="middle">0</text>
<text x="505.4" y="364.3" font-size="7.5" fill="#efc450" stroke="#efc450" stroke-width="0.12" text-anchor="middle">0</text>
<text x="505.4" y="374.1" font-size="7.5" fill="#2f5283" stroke="#2f5283" stroke-width="0.12" text-anchor="middle">0</text>
<text x="6.6" y="426.8" font-size="11" font-weight="bold" fill="#111" stroke="#111" stroke-width="0.4">E</text>
<path d="M69.7 429.8V529.4H252.7" fill="none" stroke="#222" stroke-width="1.1"/>
<path d="M67.2 524.9H69.7" stroke="#222" stroke-width="0.9"/>
<text x="64.0" y="527.4" font-size="7.7" fill="#1e1e1e" stroke="#1e1e1e" stroke-width="0.12" text-anchor="end">0.00</text>
<path d="M67.2 502.2H69.7" stroke="#222" stroke-width="0.9"/>
<text x="64.0" y="504.8" font-size="7.7" fill="#1e1e1e" stroke="#1e1e1e" stroke-width="0.12" text-anchor="end">0.25</text>
<path d="M67.2 479.6H69.7" stroke="#222" stroke-width="0.9"/>
<text x="64.0" y="482.1" font-size="7.7" fill="#1e1e1e" stroke="#1e1e1e" stroke-width="0.12" text-anchor="end">0.50</text>
<path d="M67.2 457.0H69.7" stroke="#222" stroke-width="0.9"/>
<text x="64.0" y="459.5" font-size="7.7" fill="#1e1e1e" stroke="#1e1e1e" stroke-width="0.12" text-anchor="end">0.75</text>
<path d="M67.2 434.3H69.7" stroke="#222" stroke-width="0.9"/>
<text x="64.0" y="436.8" font-size="7.7" fill="#1e1e1e" stroke="#1e1e1e" stroke-width="0.12" text-anchor="end">1.00</text>
<path d="M78.0 529.4V532.0" stroke="#222" stroke-width="0.9"/>
<text x="78.0" y="542.0" font-size="7.7" fill="#1e1e1e" stroke="#1e1e1e" stroke-width="0.12" text-anchor="middle">0</text>
<path d="M98.8 529.4V532.0" stroke="#222" stroke-width="0.9"/>
<text x="98.8" y="542.0" font-size="7.7" fill="#1e1e1e" stroke="#1e1e1e" stroke-width="0.12" text-anchor="middle">1</text>
<path d="M119.6 529.4V532.0" stroke="#222" stroke-width="0.9"/>
<text x="119.6" y="542.0" font-size="7.7" fill="#1e1e1e" stroke="#1e1e1e" stroke-width="0.12" text-anchor="middle">2</text>
<path d="M140.4 529.4V532.0" stroke="#222" stroke-width="0.9"/>
<text x="140.4" y="542.0" font-size="7.7" fill="#1e1e1e" stroke="#1e1e1e" stroke-width="0.12" text-anchor="middle">3</text>
<path d="M161.2 529.4V532.0" stroke="#222" stroke-width="0.9"/>
<text x="161.2" y="542.0" font-size="7.7" fill="#1e1e1e" stroke="#1e1e1e" stroke-width="0.12" text-anchor="middle">4</text>
<path d="M182.0 529.4V532.0" stroke="#222" stroke-width="0.9"/>
<text x="182.0" y="542.0" font-size="7.7" fill="#1e1e1e" stroke="#1e1e1e" stroke-width="0.12" text-anchor="middle">5</text>
<path d="M202.8 529.4V532.0" stroke="#222" stroke-width="0.9"/>
<text x="202.8" y="542.0" font-size="7.7" fill="#1e1e1e" stroke="#1e1e1e" stroke-width="0.12" text-anchor="middle">6</text>
<path d="M223.6 529.4V532.0" stroke="#222" stroke-width="0.9"/>
<text x="223.6" y="542.0" font-size="7.7" fill="#1e1e1e" stroke="#1e1e1e" stroke-width="0.12" text-anchor="middle">7</text>
<path d="M244.4 529.4V532.0" stroke="#222" stroke-width="0.9"/>
<text x="244.4" y="542.0" font-size="7.7" fill="#1e1e1e" stroke="#1e1e1e" stroke-width="0.12" text-anchor="middle">8</text>
<text x="160.2" y="554.7" font-size="8.4" fill="#1e1e1e" text-anchor="middle" textLength="32" lengthAdjust="spacingAndGlyphs" stroke="#1e1e1e" stroke-width="0.2">Time(years)</text>
<text transform="translate(42.7,479.8) rotate(-90)" font-size="7.8" fill="#1e1e1e" text-anchor="middle" textLength="47" lengthAdjust="spacingAndGlyphs" stroke="#1e1e1e" stroke-width="0.25">RFS (proportion)</text>
<polyline points="84.7,433.8 86.7,434.0 90.5,436.3 97.2,440.6 106.8,447.3 114.5,453.0 119.3,454.5 128.0,455.2 155.0,456.3 193.8,456.9 193.8,457.9 232.7,457.9" fill="none" stroke="#6a7f9e" stroke-width="0.85" stroke-dasharray="2 2.2"/>
<polyline points="84.7,433.8 87.6,438.7 93.4,444.4 101.0,450.7 106.8,457.0 112.6,463.2 116.5,466.0 128.0,467.0 155.0,468.8 169.0,469.2 169.0,470.8 193.8,470.8 193.8,476.5 232.7,476.5" fill="none" stroke="#6a7f9e" stroke-width="0.85" stroke-dasharray="2 2.2"/>
<polyline points="84.5,434.0 88.0,442.0 91.4,451.7 93.1,463.4 97.2,475.2 101.9,485.7 105.4,490.4 110.1,495.1 119.5,498.0 142.0,499.2 232.0,500.2" fill="none" stroke="#e8cf7c" stroke-width="0.75" stroke-dasharray="2 2.2"/>
<polyline points="84.5,434.0 86.5,445.0 89.0,452.9 92.6,469.3 97.2,483.4 101.9,491.6 107.8,499.8 114.8,503.9 121.9,506.2 142.0,508.0 232.0,510.2" fill="none" stroke="#e8cf7c" stroke-width="0.75" stroke-dasharray="2 2.2"/>
<polyline points="78.8,433.8 84.5,433.8 84.9,440.0 87.9,448.2 91.4,459.9 93.7,468.1 97.2,478.7 100.8,486.9 103.7,489.2 106.6,493.9 110.1,497.4 117.2,501.0 124.2,503.9 131.2,504.8 155.0,505.2 232.0,505.4" fill="none" stroke="#f2c41e" stroke-width="1.05" stroke-linejoin="round"/>
<polyline points="78.8,433.8 84.7,433.8 92.4,440.6 99.2,445.9 102.0,449.2 105.9,452.1 109.7,455.5 113.6,459.3 116.5,460.6 123.2,461.3 140.0,462.3 155.0,463.0 169.2,463.1 169.2,464.0 193.8,464.0 193.8,467.9 232.7,467.9" fill="none" stroke="#2c5687" stroke-width="1.15" stroke-linejoin="round"/>
<path d="M123.5 460.0v3.2M127.5 460.0v3.2M129.2 460.0v3.2M134.4 460.0v3.2M141.9 461.0v3.2M143.6 461.0v3.2M145.4 461.0v3.2M147.7 461.0v3.2M150.0 461.0v3.2M152.3 461.0v3.2M157.5 461.0v3.2M162.1 461.0v3.2M163.3 461.0v3.2M165.6 461.0v3.2M167.3 461.0v3.2M169.6 462.4v3.2M171.9 462.4v3.2M174.2 462.4v3.2M176.2 462.4v3.2M178.2 462.4v3.2M180.2 462.4v3.2M182.5 462.4v3.2M185.4 462.4v3.2M186.5 462.4v3.2M188.3 462.4v3.2M190.0 462.4v3.2M192.3 462.4v3.2M193.5 462.4v3.2M194.6 466.3v3.2M197.5 466.3v3.2M199.2 466.3v3.2M205.6 466.3v3.2M211.9 466.3v3.2M212.5 466.3v3.2M222.3 466.3v3.2M225.7 466.3v3.2M231.5 466.3v3.2" stroke="#1d3b63" stroke-width="0.9"/>
<path d="M130.0 503.9v2.6M135.0 503.9v2.6M140.0 503.9v2.6M145.0 503.9v2.6M150.0 503.9v2.6M155.0 503.9v2.6M160.0 503.9v2.6M165.0 503.9v2.6M170.0 503.9v2.6M175.0 503.9v2.6M180.0 503.9v2.6M185.0 503.9v2.6M190.0 503.9v2.6M195.0 503.9v2.6M200.0 503.9v2.6M205.0 503.9v2.6M210.0 503.9v2.6M215.0 503.9v2.6M220.0 503.9v2.6M225.0 503.9v2.6M230.0 503.9v2.6" stroke="#d9ae1e" stroke-width="0.9"/>
<text x="78.2" y="512.3" font-size="7.7" fill="#1e1e1e"><tspan font-style="italic" font-size="8.2">P</tspan><tspan dx="1.7">&lt;</tspan><tspan dx="0.5">.001</tspan></text>
<path d="M69.7 563.2V580.9H252.7" fill="none" stroke="#222" stroke-width="1.1"/>
<path d="M67.2 567.0H69.7" stroke="#222" stroke-width="0.9"/>
<path d="M67.2 576.8H69.7" stroke="#222" stroke-width="0.9"/>
<path d="M78.0 580.9V583.5" stroke="#222" stroke-width="0.9"/>
<text x="78.0" y="593.7" font-size="7.7" fill="#1e1e1e" stroke="#1e1e1e" stroke-width="0.12" text-anchor="middle">0</text>
<path d="M98.8 580.9V583.5" stroke="#222" stroke-width="0.9"/>
<text x="98.8" y="593.7" font-size="7.7" fill="#1e1e1e" stroke="#1e1e1e" stroke-width="0.12" text-anchor="middle">1</text>
<path d="M119.6 580.9V583.5" stroke="#222" stroke-width="0.9"/>
<text x="119.6" y="593.7" font-size="7.7" fill="#1e1e1e" stroke="#1e1e1e" stroke-width="0.12" text-anchor="middle">2</text>
<path d="M140.4 580.9V583.5" stroke="#222" stroke-width="0.9"/>
<text x="140.4" y="593.7" font-size="7.7" fill="#1e1e1e" stroke="#1e1e1e" stroke-width="0.12" text-anchor="middle">3</text>
<path d="M161.2 580.9V583.5" stroke="#222" stroke-width="0.9"/>
<text x="161.2" y="593.7" font-size="7.7" fill="#1e1e1e" stroke="#1e1e1e" stroke-width="0.12" text-anchor="middle">4</text>
<path d="M182.0 580.9V583.5" stroke="#222" stroke-width="0.9"/>
<text x="182.0" y="593.7" font-size="7.7" fill="#1e1e1e" stroke="#1e1e1e" stroke-width="0.12" text-anchor="middle">5</text>
<path d="M202.8 580.9V583.5" stroke="#222" stroke-width="0.9"/>
<text x="202.8" y="593.7" font-size="7.7" fill="#1e1e1e" stroke="#1e1e1e" stroke-width="0.12" text-anchor="middle">6</text>
<path d="M223.6 580.9V583.5" stroke="#222" stroke-width="0.9"/>
<text x="223.6" y="593.7" font-size="7.7" fill="#1e1e1e" stroke="#1e1e1e" stroke-width="0.12" text-anchor="middle">7</text>
<path d="M244.4 580.9V583.5" stroke="#222" stroke-width="0.9"/>
<text x="244.4" y="593.7" font-size="7.7" fill="#1e1e1e" stroke="#1e1e1e" stroke-width="0.12" text-anchor="middle">8</text>
<text x="160.2" y="606.1" font-size="8.4" fill="#1e1e1e" text-anchor="middle" textLength="32" lengthAdjust="spacingAndGlyphs" stroke="#1e1e1e" stroke-width="0.2">Time(years)</text>
<text x="64.0" y="569.3" font-size="7.3" fill="#efc450" text-anchor="end">AML<tspan font-size="5.2" dy="-2" textLength="14.2" lengthAdjust="spacingAndGlyphs">lnc69</tspan><tspan dy="2">-High</tspan></text>
<text x="64.0" y="579.1" font-size="7.3" fill="#2f5283" text-anchor="end">AML<tspan font-size="5.2" dy="-2" textLength="14.2" lengthAdjust="spacingAndGlyphs">lnc69</tspan><tspan dy="2">-Low</tspan></text>
<text x="78.0" y="569.6" font-size="7.5" fill="#efc450" stroke="#efc450" stroke-width="0.12" text-anchor="middle">253</text>
<text x="78.0" y="579.4" font-size="7.5" fill="#2f5283" stroke="#2f5283" stroke-width="0.12" text-anchor="middle">169</text>
<text x="98.8" y="569.6" font-size="7.5" fill="#efc450" stroke="#efc450" stroke-width="0.12" text-anchor="middle">118</text>
<text x="98.8" y="579.4" font-size="7.5" fill="#2f5283" stroke="#2f5283" stroke-width="0.12" text-anchor="middle">146</text>
<text x="119.6" y="569.6" font-size="7.5" fill="#efc450" stroke="#efc450" stroke-width="0.12" text-anchor="middle">64</text>
<text x="119.6" y="579.4" font-size="7.5" fill="#2f5283" stroke="#2f5283" stroke-width="0.12" text-anchor="middle">115</text>
<text x="140.4" y="569.6" font-size="7.5" fill="#efc450" stroke="#efc450" stroke-width="0.12" text-anchor="middle">49</text>
<text x="140.4" y="579.4" font-size="7.5" fill="#2f5283" stroke="#2f5283" stroke-width="0.12" text-anchor="middle">97</text>
<text x="161.2" y="569.6" font-size="7.5" fill="#efc450" stroke="#efc450" stroke-width="0.12" text-anchor="middle">33</text>
<text x="161.2" y="579.4" font-size="7.5" fill="#2f5283" stroke="#2f5283" stroke-width="0.12" text-anchor="middle">62</text>
<text x="182.0" y="569.6" font-size="7.5" fill="#efc450" stroke="#efc450" stroke-width="0.12" text-anchor="middle">16</text>
<text x="182.0" y="579.4" font-size="7.5" fill="#2f5283" stroke="#2f5283" stroke-width="0.12" text-anchor="middle">29</text>
<text x="202.8" y="569.6" font-size="7.5" fill="#efc450" stroke="#efc450" stroke-width="0.12" text-anchor="middle">7</text>
<text x="202.8" y="579.4" font-size="7.5" fill="#2f5283" stroke="#2f5283" stroke-width="0.12" text-anchor="middle">10</text>
<text x="223.6" y="569.6" font-size="7.5" fill="#efc450" stroke="#efc450" stroke-width="0.12" text-anchor="middle">1</text>
<text x="223.6" y="579.4" font-size="7.5" fill="#2f5283" stroke="#2f5283" stroke-width="0.12" text-anchor="middle">2</text>
<text x="244.4" y="569.6" font-size="7.5" fill="#efc450" stroke="#efc450" stroke-width="0.12" text-anchor="middle">0</text>
<text x="244.4" y="579.4" font-size="7.5" fill="#2f5283" stroke="#2f5283" stroke-width="0.12" text-anchor="middle">0</text>
<text x="267.6" y="426.8" font-size="11" font-weight="bold" fill="#111" stroke="#111" stroke-width="0.4">F</text>
<path d="M330.7 429.8V529.4H513.7" fill="none" stroke="#222" stroke-width="1.1"/>
<path d="M328.2 524.9H330.7" stroke="#222" stroke-width="0.9"/>
<text x="325.0" y="527.4" font-size="7.7" fill="#1e1e1e" stroke="#1e1e1e" stroke-width="0.12" text-anchor="end">0.00</text>
<path d="M328.2 502.2H330.7" stroke="#222" stroke-width="0.9"/>
<text x="325.0" y="504.8" font-size="7.7" fill="#1e1e1e" stroke="#1e1e1e" stroke-width="0.12" text-anchor="end">0.25</text>
<path d="M328.2 479.6H330.7" stroke="#222" stroke-width="0.9"/>
<text x="325.0" y="482.1" font-size="7.7" fill="#1e1e1e" stroke="#1e1e1e" stroke-width="0.12" text-anchor="end">0.50</text>
<path d="M328.2 457.0H330.7" stroke="#222" stroke-width="0.9"/>
<text x="325.0" y="459.5" font-size="7.7" fill="#1e1e1e" stroke="#1e1e1e" stroke-width="0.12" text-anchor="end">0.75</text>
<path d="M328.2 434.3H330.7" stroke="#222" stroke-width="0.9"/>
<text x="325.0" y="436.8" font-size="7.7" fill="#1e1e1e" stroke="#1e1e1e" stroke-width="0.12" text-anchor="end">1.00</text>
<path d="M339.0 529.4V532.0" stroke="#222" stroke-width="0.9"/>
<text x="339.0" y="542.0" font-size="7.7" fill="#1e1e1e" stroke="#1e1e1e" stroke-width="0.12" text-anchor="middle">0</text>
<path d="M359.8 529.4V532.0" stroke="#222" stroke-width="0.9"/>
<text x="359.8" y="542.0" font-size="7.7" fill="#1e1e1e" stroke="#1e1e1e" stroke-width="0.12" text-anchor="middle">1</text>
<path d="M380.6 529.4V532.0" stroke="#222" stroke-width="0.9"/>
<text x="380.6" y="542.0" font-size="7.7" fill="#1e1e1e" stroke="#1e1e1e" stroke-width="0.12" text-anchor="middle">2</text>
<path d="M401.4 529.4V532.0" stroke="#222" stroke-width="0.9"/>
<text x="401.4" y="542.0" font-size="7.7" fill="#1e1e1e" stroke="#1e1e1e" stroke-width="0.12" text-anchor="middle">3</text>
<path d="M422.2 529.4V532.0" stroke="#222" stroke-width="0.9"/>
<text x="422.2" y="542.0" font-size="7.7" fill="#1e1e1e" stroke="#1e1e1e" stroke-width="0.12" text-anchor="middle">4</text>
<path d="M443.0 529.4V532.0" stroke="#222" stroke-width="0.9"/>
<text x="443.0" y="542.0" font-size="7.7" fill="#1e1e1e" stroke="#1e1e1e" stroke-width="0.12" text-anchor="middle">5</text>
<path d="M463.8 529.4V532.0" stroke="#222" stroke-width="0.9"/>
<text x="463.8" y="542.0" font-size="7.7" fill="#1e1e1e" stroke="#1e1e1e" stroke-width="0.12" text-anchor="middle">6</text>
<path d="M484.6 529.4V532.0" stroke="#222" stroke-width="0.9"/>
<text x="484.6" y="542.0" font-size="7.7" fill="#1e1e1e" stroke="#1e1e1e" stroke-width="0.12" text-anchor="middle">7</text>
<path d="M505.4 529.4V532.0" stroke="#222" stroke-width="0.9"/>
<text x="505.4" y="542.0" font-size="7.7" fill="#1e1e1e" stroke="#1e1e1e" stroke-width="0.12" text-anchor="middle">8</text>
<text x="421.2" y="554.7" font-size="8.4" fill="#1e1e1e" text-anchor="middle" textLength="32" lengthAdjust="spacingAndGlyphs" stroke="#1e1e1e" stroke-width="0.2">Time(years)</text>
<text transform="translate(303.7,479.8) rotate(-90)" font-size="7.8" fill="#1e1e1e" text-anchor="middle" textLength="47" lengthAdjust="spacingAndGlyphs" stroke="#1e1e1e" stroke-width="0.25">RFS (proportion)</text>
<polyline points="345.6,434.5 352.0,437.5 364.6,442.3 382.0,444.9 402.7,445.8 402.7,446.2 479.8,446.2" fill="none" stroke="#6a7f9e" stroke-width="0.85" stroke-dasharray="2 2.2"/>
<polyline points="345.6,434.5 348.3,444.1 353.8,449.7 360.7,455.2 367.7,459.4 376.0,461.4 385.6,462.8 402.7,463.5 402.7,465.8 479.8,465.8" fill="none" stroke="#6a7f9e" stroke-width="0.85" stroke-dasharray="2 2.2"/>
<polyline points="345.0,434.5 347.0,441.0 349.7,451.0 356.6,463.5 363.5,471.8 367.7,477.3 374.6,481.5 381.5,485.6 389.8,489.1 400.0,489.6 483.0,489.6" fill="none" stroke="#eed99a" stroke-width="0.75" stroke-dasharray="2 2.2"/>
<polyline points="345.0,434.5 345.5,448.3 348.3,464.9 351.1,477.3 355.2,485.6 359.4,492.6 363.5,499.5 367.7,505.0 373.2,510.5 381.5,514.7 389.8,517.5 483.0,517.9" fill="none" stroke="#eed99a" stroke-width="0.75" stroke-dasharray="2 2.2"/>
<polyline points="338.7,434.5 344.8,434.5 345.5,440.0 347.6,448.3 350.4,458.0 353.1,466.3 353.8,472.5 356.6,474.6 359.4,477.3 362.1,481.5 364.9,487.0 367.7,491.2 369.7,498.1 372.5,501.5 380.1,502.2 381.5,505.7 389.1,506.2 389.8,508.7 483.0,508.9" fill="none" stroke="#f2c41e" stroke-width="1.05" stroke-linejoin="round"/>
<polyline points="338.7,434.5 345.6,434.5 346.5,438.0 348.3,442.8 353.8,442.8 353.8,446.9 359.4,446.9 359.4,449.7 364.2,449.7 364.2,451.8 376.7,451.8 376.7,453.1 385.0,453.1 385.0,455.2 401.0,455.2 401.0,456.7 479.8,456.7" fill="none" stroke="#2c5687" stroke-width="1.15" stroke-linejoin="round"/>
<path d="M377.5 451.5v3.2M385.4 453.6v3.2M390.6 453.6v3.2M394.9 453.6v3.2M396.6 453.6v3.2M399.5 453.6v3.2M403.0 455.1v3.2M405.0 455.1v3.2M410.0 455.1v3.2M412.0 455.1v3.2M416.0 455.1v3.2M420.0 455.1v3.2M425.0 455.1v3.2M431.0 455.1v3.2M440.0 455.1v3.2M443.0 455.1v3.2M446.0 455.1v3.2M451.0 455.1v3.2M455.0 455.1v3.2M460.0 455.1v3.2M466.0 455.1v3.2M469.0 455.1v3.2M474.0 455.1v3.2M477.0 455.1v3.2M479.0 455.1v3.2" stroke="#1d3b63" stroke-width="0.9"/>
<path d="M419.0 507.6v2.6M483.0 507.6v2.6" stroke="#d9ae1e" stroke-width="0.9"/>
<text x="336.9" y="512.3" font-size="7.7" fill="#1e1e1e"><tspan font-style="italic" font-size="8.2">P</tspan><tspan dx="1.7">&lt;</tspan><tspan dx="0.5">.001</tspan></text>
<path d="M330.7 563.2V580.9H513.7" fill="none" stroke="#222" stroke-width="1.1"/>
<path d="M328.2 567.0H330.7" stroke="#222" stroke-width="0.9"/>
<path d="M328.2 576.8H330.7" stroke="#222" stroke-width="0.9"/>
<path d="M339.0 580.9V583.5" stroke="#222" stroke-width="0.9"/>
<text x="339.0" y="593.7" font-size="7.7" fill="#1e1e1e" stroke="#1e1e1e" stroke-width="0.12" text-anchor="middle">0</text>
<path d="M359.8 580.9V583.5" stroke="#222" stroke-width="0.9"/>
<text x="359.8" y="593.7" font-size="7.7" fill="#1e1e1e" stroke="#1e1e1e" stroke-width="0.12" text-anchor="middle">1</text>
<path d="M380.6 580.9V583.5" stroke="#222" stroke-width="0.9"/>
<text x="380.6" y="593.7" font-size="7.7" fill="#1e1e1e" stroke="#1e1e1e" stroke-width="0.12" text-anchor="middle">2</text>
<path d="M401.4 580.9V583.5" stroke="#222" stroke-width="0.9"/>
<text x="401.4" y="593.7" font-size="7.7" fill="#1e1e1e" stroke="#1e1e1e" stroke-width="0.12" text-anchor="middle">3</text>
<path d="M422.2 580.9V583.5" stroke="#222" stroke-width="0.9"/>
<text x="422.2" y="593.7" font-size="7.7" fill="#1e1e1e" stroke="#1e1e1e" stroke-width="0.12" text-anchor="middle">4</text>
<path d="M443.0 580.9V583.5" stroke="#222" stroke-width="0.9"/>
<text x="443.0" y="593.7" font-size="7.7" fill="#1e1e1e" stroke="#1e1e1e" stroke-width="0.12" text-anchor="middle">5</text>
<path d="M463.8 580.9V583.5" stroke="#222" stroke-width="0.9"/>
<text x="463.8" y="593.7" font-size="7.7" fill="#1e1e1e" stroke="#1e1e1e" stroke-width="0.12" text-anchor="middle">6</text>
<path d="M484.6 580.9V583.5" stroke="#222" stroke-width="0.9"/>
<text x="484.6" y="593.7" font-size="7.7" fill="#1e1e1e" stroke="#1e1e1e" stroke-width="0.12" text-anchor="middle">7</text>
<path d="M505.4 580.9V583.5" stroke="#222" stroke-width="0.9"/>
<text x="505.4" y="593.7" font-size="7.7" fill="#1e1e1e" stroke="#1e1e1e" stroke-width="0.12" text-anchor="middle">8</text>
<text x="421.2" y="606.1" font-size="8.4" fill="#1e1e1e" text-anchor="middle" textLength="32" lengthAdjust="spacingAndGlyphs" stroke="#1e1e1e" stroke-width="0.2">Time(years)</text>
<text x="325.0" y="569.3" font-size="7.3" fill="#efc450" text-anchor="end">AML<tspan font-size="5.2" dy="-2" textLength="14.2" lengthAdjust="spacingAndGlyphs">lnc69</tspan><tspan dy="2">-High</tspan></text>
<text x="325.0" y="579.1" font-size="7.3" fill="#2f5283" text-anchor="end">AML<tspan font-size="5.2" dy="-2" textLength="14.2" lengthAdjust="spacingAndGlyphs">lnc69</tspan><tspan dy="2">-Low</tspan></text>
<text x="339.0" y="569.6" font-size="7.5" fill="#efc450" stroke="#efc450" stroke-width="0.12" text-anchor="middle">28</text>
<text x="339.0" y="579.4" font-size="7.5" fill="#2f5283" stroke="#2f5283" stroke-width="0.12" text-anchor="middle">64</text>
<text x="359.8" y="569.6" font-size="7.5" fill="#efc450" stroke="#efc450" stroke-width="0.12" text-anchor="middle">15</text>
<text x="359.8" y="579.4" font-size="7.5" fill="#2f5283" stroke="#2f5283" stroke-width="0.12" text-anchor="middle">54</text>
<text x="380.6" y="569.6" font-size="7.5" fill="#efc450" stroke="#efc450" stroke-width="0.12" text-anchor="middle">7</text>
<text x="380.6" y="579.4" font-size="7.5" fill="#2f5283" stroke="#2f5283" stroke-width="0.12" text-anchor="middle">47</text>
<text x="401.4" y="569.6" font-size="7.5" fill="#efc450" stroke="#efc450" stroke-width="0.12" text-anchor="middle">4</text>
<text x="401.4" y="579.4" font-size="7.5" fill="#2f5283" stroke="#2f5283" stroke-width="0.12" text-anchor="middle">40</text>
<text x="422.2" y="569.6" font-size="7.5" fill="#efc450" stroke="#efc450" stroke-width="0.12" text-anchor="middle">1</text>
<text x="422.2" y="579.4" font-size="7.5" fill="#2f5283" stroke="#2f5283" stroke-width="0.12" text-anchor="middle">22</text>
<text x="443.0" y="569.6" font-size="7.5" fill="#efc450" stroke="#efc450" stroke-width="0.12" text-anchor="middle">1</text>
<text x="443.0" y="579.4" font-size="7.5" fill="#2f5283" stroke="#2f5283" stroke-width="0.12" text-anchor="middle">13</text>
<text x="463.8" y="569.6" font-size="7.5" fill="#efc450" stroke="#efc450" stroke-width="0.12" text-anchor="middle">1</text>
<text x="463.8" y="579.4" font-size="7.5" fill="#2f5283" stroke="#2f5283" stroke-width="0.12" text-anchor="middle">8</text>
<text x="484.6" y="569.6" font-size="7.5" fill="#efc450" stroke="#efc450" stroke-width="0.12" text-anchor="middle">0</text>
<text x="484.6" y="579.4" font-size="7.5" fill="#2f5283" stroke="#2f5283" stroke-width="0.12" text-anchor="middle">0</text>
<text x="505.4" y="569.6" font-size="7.5" fill="#efc450" stroke="#efc450" stroke-width="0.12" text-anchor="middle">0</text>
<text x="505.4" y="579.4" font-size="7.5" fill="#2f5283" stroke="#2f5283" stroke-width="0.12" text-anchor="middle">0</text>
<text x="6.9" y="221.3" font-size="11" font-weight="bold" fill="#111" stroke="#111" stroke-width="0.4">C</text>
<path d="M80.80 252.80A41.2 41.2 0 0 1 103.24 259.45L92.13 276.56A20.8 20.8 0 0 0 80.80 273.20Z" fill="#cb0a2c"/>
<path d="M103.24 259.45A41.2 41.2 0 1 1 64.04 256.36L72.34 275.00A20.8 20.8 0 1 0 92.13 276.56Z" fill="#fcbb0a"/>
<path d="M64.04 256.36A41.2 41.2 0 0 1 80.80 252.80L80.80 273.20A20.8 20.8 0 0 0 72.34 275.00Z" fill="#0f4b8c"/>
<path d="M178.10 252.90A41 41 0 0 1 205.00 262.96L191.75 278.20A20.8 20.8 0 0 0 178.10 273.10Z" fill="#cb0a2c"/>
<path d="M205.00 262.96A41 41 0 0 1 198.91 329.23L188.66 311.82A20.8 20.8 0 0 0 191.75 278.20Z" fill="#fcbb0a"/>
<path d="M198.91 329.23A41 41 0 1 1 178.10 252.90L178.10 273.10A20.8 20.8 0 1 0 188.66 311.82Z" fill="#0f4b8c"/>
<text x="42.5" y="248" font-size="8.75" fill="#1a1a1a" stroke="#1a1a1a" stroke-width="0.15">High Risk_AML<tspan font-size="7.2" dy="-3.1">lnc69</tspan></text>
<text x="140.2" y="248" font-size="8.75" fill="#1a1a1a" stroke="#1a1a1a" stroke-width="0.15">Low Risk_AML<tspan font-size="7.2" dy="-3.1">lnc69</tspan></text>
<text x="85.7" y="347.7" font-size="7.45" font-style="italic" fill="#1a1a1a" stroke="#1a1a1a" stroke-width="0.12">Cytogenetic/molecular risk</text>
<rect x="101.6" y="353.5" width="5.8" height="5.8" fill="#cb0a2c"/>
<text x="111" y="359.1" font-size="7.35" fill="#1a1a1a" stroke="#1a1a1a" stroke-width="0.12">High Risk</text>
<rect x="101.6" y="364.6" width="5.8" height="5.8" fill="#fcbb0a"/>
<text x="111" y="370.2" font-size="7.35" fill="#1a1a1a" stroke="#1a1a1a" stroke-width="0.12">Standard Risk</text>
<rect x="101.6" y="375.8" width="5.8" height="5.8" fill="#0f4b8c"/>
<text x="111" y="381.4" font-size="7.35" fill="#1a1a1a" stroke="#1a1a1a" stroke-width="0.12">Low Risk</text>
<rect x="0.5" y="0.5" width="519" height="614" fill="none" stroke="#606060" stroke-width="1"/>
</svg></body></html>
